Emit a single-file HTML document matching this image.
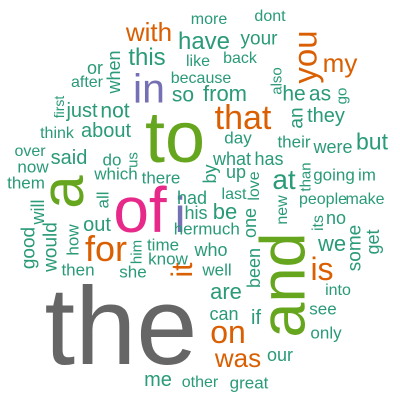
<!DOCTYPE html>
<html><head><meta charset="utf-8"><style>
html,body{margin:0;padding:0;background:#fff}
#cloud{position:relative;width:400px;height:400px;overflow:hidden;font-family:"Liberation Sans",Arial,sans-serif}
#cloud span{position:absolute;line-height:1;white-space:nowrap;transform:translate(-50%,-50%)}
#cloud span.r{transform:translate(-50%,-50%) rotate(-90deg)}
.g{color:#2a9a78}.o{color:#d95f02}.p{color:#7570b3}.k{color:#e7298a}.l{color:#66a61e}.y{color:#666}
</style></head><body>
<div id="cloud">
<span class="y" style="left:121px;top:327px;font-size:110px">the</span>
<span class="l" style="left:175px;top:138px;font-size:72px">to</span>
<span class="l r" style="left:284px;top:285px;font-size:63px">and</span>
<span class="l r" style="left:63px;top:192px;font-size:60px">a</span>
<span class="k" style="left:140px;top:210px;font-size:64px">of</span>
<span class="p" style="left:180px;top:215px;font-size:50px">i</span>
<span class="p" style="left:149px;top:89px;font-size:41px">in</span>
<span class="o" style="left:243px;top:118px;font-size:34px">that</span>
<span class="o r" style="left:305px;top:57px;font-size:33px">you</span>
<span class="o" style="left:149px;top:32px;font-size:26px">with</span>
<span class="o" style="left:340px;top:63px;font-size:26px">my</span>
<span class="o" style="left:322px;top:269px;font-size:32px">is</span>
<span class="o r" style="left:183px;top:270px;font-size:30px">it</span>
<span class="o" style="left:106px;top:249px;font-size:36px">for</span>
<span class="o" style="left:228px;top:332px;font-size:32px">on</span>
<span class="o" style="left:238px;top:358px;font-size:26px">was</span>
<span class="g" style="left:284px;top:180px;font-size:28px">at</span>
<span class="g" style="left:147px;top:58px;font-size:24px">this</span>
<span class="g" style="left:209px;top:20px;font-size:16px">more</span>
<span class="g" style="left:270px;top:17px;font-size:16px">dont</span>
<span class="g" style="left:204px;top:42px;font-size:24px">have</span>
<span class="g" style="left:259px;top:39px;font-size:19px">your</span>
<span class="g" style="left:198px;top:62px;font-size:16px">like</span>
<span class="g" style="left:240px;top:59px;font-size:16px">back</span>
<span class="g" style="left:201px;top:79px;font-size:16px">because</span>
<span class="g" style="left:183px;top:95px;font-size:21px">so</span>
<span class="g" style="left:225px;top:94px;font-size:22px">from</span>
<span class="g r" style="left:277px;top:81px;font-size:15px">also</span>
<span class="g" style="left:294px;top:94px;font-size:21px">he</span>
<span class="g" style="left:320px;top:94px;font-size:21px">as</span>
<span class="g r" style="left:342px;top:96px;font-size:15px">go</span>
<span class="g r" style="left:297px;top:118px;font-size:19px">an</span>
<span class="g" style="left:326px;top:116px;font-size:20px">they</span>
<span class="g" style="left:238px;top:138px;font-size:17px">day</span>
<span class="g" style="left:294px;top:142px;font-size:17px">their</span>
<span class="g" style="left:333px;top:147px;font-size:18px">were</span>
<span class="g" style="left:372px;top:142px;font-size:23px">but</span>
<span class="g" style="left:232px;top:159px;font-size:18px">what</span>
<span class="g" style="left:269px;top:159px;font-size:18px">has</span>
<span class="g r" style="left:210px;top:174px;font-size:18px">by</span>
<span class="g" style="left:236px;top:172px;font-size:18px">up</span>
<span class="g r" style="left:255px;top:186px;font-size:16px">love</span>
<span class="g r" style="left:306px;top:177px;font-size:15px">than</span>
<span class="g" style="left:334px;top:175px;font-size:17px">going</span>
<span class="g" style="left:367px;top:175px;font-size:17px">im</span>
<span class="g" style="left:234px;top:195px;font-size:16px">last</span>
<span class="g" style="left:323px;top:200px;font-size:16px">people</span>
<span class="g" style="left:365px;top:200px;font-size:16px">make</span>
<span class="g r" style="left:283px;top:210px;font-size:16px">new</span>
<span class="g r" style="left:319px;top:223px;font-size:16px">its</span>
<span class="g" style="left:336px;top:218px;font-size:18px">no</span>
<span class="g r" style="left:250px;top:223px;font-size:18px">one</span>
<span class="g" style="left:192px;top:198px;font-size:18px">had</span>
<span class="g" style="left:196px;top:213px;font-size:18px">his</span>
<span class="g" style="left:225px;top:212px;font-size:22px">be</span>
<span class="g" style="left:186px;top:229px;font-size:17px">her</span>
<span class="g" style="left:219px;top:229px;font-size:17px">much</span>
<span class="g" style="left:161px;top:178px;font-size:17px">there</span>
<span class="g" style="left:116px;top:174px;font-size:17px">which</span>
<span class="g" style="left:112px;top:160px;font-size:17px">do</span>
<span class="g r" style="left:133px;top:160px;font-size:15px">us</span>
<span class="g" style="left:69px;top:158px;font-size:20px">said</span>
<span class="g" style="left:57px;top:134px;font-size:16px">think</span>
<span class="g" style="left:106px;top:131px;font-size:20px">about</span>
<span class="g" style="left:82px;top:111px;font-size:20px">just</span>
<span class="g" style="left:115px;top:111px;font-size:21px">not</span>
<span class="g r" style="left:59px;top:107px;font-size:14px">first</span>
<span class="g" style="left:87px;top:83px;font-size:16px">after</span>
<span class="g" style="left:95px;top:68px;font-size:18px">or</span>
<span class="g r" style="left:114px;top:72px;font-size:18px">when</span>
<span class="g" style="left:30px;top:152px;font-size:16px">over</span>
<span class="g" style="left:33px;top:167px;font-size:17px">now</span>
<span class="g" style="left:26px;top:183px;font-size:17px">them</span>
<span class="g r" style="left:103px;top:200px;font-size:17px">all</span>
<span class="g r" style="left:38px;top:212px;font-size:18px">will</span>
<span class="g r" style="left:29px;top:248px;font-size:19px">good</span>
<span class="g r" style="left:51px;top:247px;font-size:19px">would</span>
<span class="g r" style="left:73px;top:240px;font-size:17px">how</span>
<span class="g" style="left:97px;top:225px;font-size:20px">out</span>
<span class="g" style="left:78px;top:270px;font-size:17px">then</span>
<span class="g r" style="left:137px;top:252px;font-size:15px">him</span>
<span class="g" style="left:163px;top:245px;font-size:17px">time</span>
<span class="g" style="left:168px;top:259px;font-size:17px">know</span>
<span class="g" style="left:133px;top:272px;font-size:17px">she</span>
<span class="g" style="left:211px;top:250px;font-size:18px">who</span>
<span class="g" style="left:217px;top:270px;font-size:17px">well</span>
<span class="g" style="left:226px;top:292px;font-size:22px">are</span>
<span class="g r" style="left:254px;top:268px;font-size:18px">been</span>
<span class="g" style="left:224px;top:314px;font-size:18px">can</span>
<span class="g" style="left:256px;top:318px;font-size:20px">if</span>
<span class="g" style="left:332px;top:244px;font-size:22px">we</span>
<span class="g r" style="left:355px;top:248px;font-size:19px">some</span>
<span class="g r" style="left:373px;top:242px;font-size:18px">get</span>
<span class="g" style="left:338px;top:291px;font-size:16px">into</span>
<span class="g" style="left:323px;top:309px;font-size:17px">see</span>
<span class="g" style="left:326px;top:333px;font-size:17px">only</span>
<span class="g" style="left:280px;top:355px;font-size:18px">our</span>
<span class="g" style="left:249px;top:383px;font-size:17px">great</span>
<span class="g" style="left:200px;top:383px;font-size:16px">other</span>
<span class="g" style="left:158px;top:380px;font-size:20px">me</span>
</div>
</body></html>
